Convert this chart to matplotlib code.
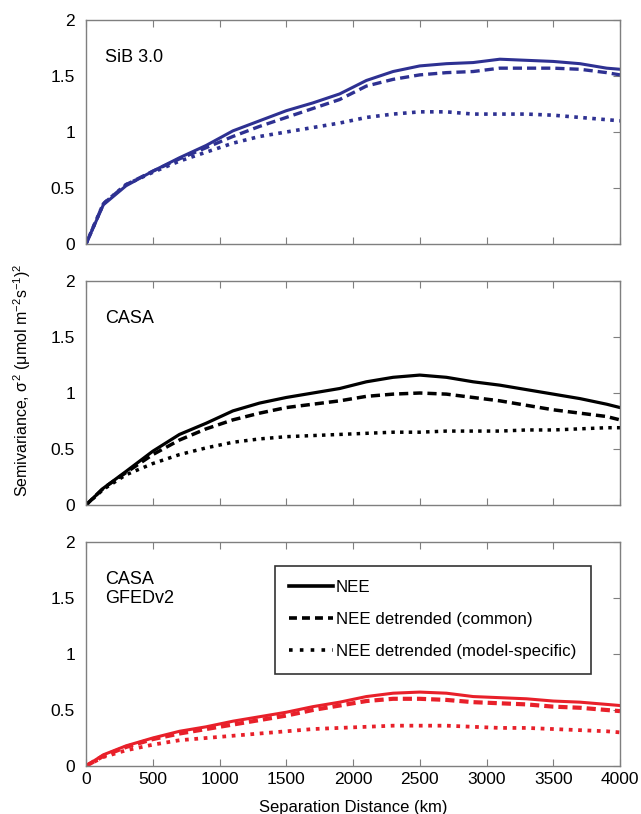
import matplotlib
matplotlib.use('Agg')
import matplotlib.pyplot as plt
from matplotlib.lines import Line2D

plt.rcParams['font.family'] = ['Liberation Sans', 'DejaVu Sans']
plt.rcParams['mathtext.fontset'] = 'custom'
plt.rcParams['mathtext.rm'] = 'Liberation Sans'
plt.rcParams['mathtext.it'] = 'Liberation Sans'

# separation distance (km)
dist = [0, 130, 300, 500, 700, 900, 1100, 1300, 1500, 1700, 1900, 2100,
        2300, 2500, 2700, 2900, 3100, 3300, 3500, 3700, 3900, 4000]

# SiB 3.0
sib_nee = [0, 0.35, 0.52, 0.65, 0.77, 0.88, 1.01, 1.10, 1.19, 1.26, 1.34, 1.46,
           1.54, 1.59, 1.61, 1.62, 1.65, 1.64, 1.63, 1.61, 1.57, 1.56]
sib_common = [0, 0.36, 0.53, 0.65, 0.76, 0.86, 0.96, 1.05, 1.13, 1.21, 1.29, 1.41,
              1.47, 1.51, 1.53, 1.54, 1.57, 1.57, 1.57, 1.56, 1.53, 1.51]
sib_specific = [0, 0.36, 0.53, 0.64, 0.74, 0.82, 0.90, 0.96, 1.00, 1.04, 1.08, 1.13,
                1.16, 1.18, 1.18, 1.16, 1.16, 1.16, 1.15, 1.13, 1.11, 1.10]

# CASA
casa_nee = [0, 0.15, 0.30, 0.48, 0.63, 0.73, 0.84, 0.91, 0.96, 1.00, 1.04, 1.10,
            1.14, 1.16, 1.14, 1.10, 1.07, 1.03, 0.99, 0.95, 0.90, 0.87]
casa_common = [0, 0.15, 0.29, 0.45, 0.58, 0.68, 0.76, 0.82, 0.87, 0.90, 0.93, 0.97,
               0.99, 1.00, 0.99, 0.96, 0.93, 0.89, 0.85, 0.82, 0.79, 0.76]
casa_specific = [0, 0.14, 0.27, 0.37, 0.45, 0.51, 0.56, 0.59, 0.61, 0.62, 0.63, 0.64,
                 0.65, 0.65, 0.66, 0.66, 0.66, 0.67, 0.67, 0.68, 0.69, 0.69]

# CASA GFEDv2
gfed_nee = [0, 0.10, 0.18, 0.25, 0.31, 0.35, 0.40, 0.44, 0.48, 0.53, 0.57, 0.62,
            0.65, 0.66, 0.65, 0.62, 0.61, 0.60, 0.58, 0.57, 0.55, 0.54]
gfed_common = [0, 0.09, 0.17, 0.24, 0.29, 0.33, 0.37, 0.41, 0.45, 0.50, 0.54, 0.58,
               0.60, 0.60, 0.59, 0.57, 0.56, 0.55, 0.53, 0.52, 0.50, 0.49]
gfed_specific = [0, 0.08, 0.14, 0.19, 0.23, 0.25, 0.27, 0.29, 0.31, 0.33, 0.34, 0.35,
                 0.36, 0.36, 0.36, 0.35, 0.34, 0.34, 0.33, 0.32, 0.31, 0.30]

# name, colour, series, line widths (solid, dashed, dotted)
panels = [
    ("SiB 3.0", "#2e3192", sib_nee, sib_common, sib_specific, (2.2, 2.4, 2.6)),
    ("CASA", "#000000", casa_nee, casa_common, casa_specific, (2.3, 2.5, 2.5)),
    ("CASA\nGFEDv2", "#e8202a", gfed_nee, gfed_common, gfed_specific, (2.2, 3.0, 2.7)),
]

fig = plt.figure(figsize=(6.41, 8.14), dpi=100)
W, H = 641, 814
left, right = 86, 620
tops = [20, 281, 542]
ph = 224

axes = []
for (name, col, nee, com, spec, lws), top in zip(panels, tops):
    ax = fig.add_axes([left / W, 1 - (top + ph) / H, (right - left) / W, ph / H])
    ax.plot(dist, nee, color=col, lw=lws[0], solid_joinstyle='round')
    # dash ~9 px, gap ~5 px
    ax.plot(dist, com, color=col, lw=lws[1], dashes=(6.6 / lws[1], 3.6 / lws[1]),
            dash_capstyle='butt')
    ax.plot(dist, spec, color=col, lw=lws[2], dashes=(1.0, 1.5), dash_capstyle='butt')
    ax.set_xlim(0, 4000)
    ax.set_ylim(0, 2)
    ax.set_xticks(range(0, 4001, 500))
    ax.set_yticks([0, 0.5, 1, 1.5, 2])
    ax.set_yticklabels(['0', '0.5', '1', '1.5', '2'])
    for s in ax.spines.values():
        s.set_color('#7f7f7f')
        s.set_linewidth(1.0)
    ax.tick_params(direction='in', top=True, right=True, left=False,
                   length=5, color='#7f7f7f', labelsize=12.5, pad=4)
    ax.tick_params(axis='y', pad=8)
    ax.text(0.035, 0.87, name, transform=ax.transAxes, fontsize=13,
            va='top', ha='left', linespacing=1.15)
    axes.append(ax)

axes[0].tick_params(labelbottom=False)
axes[1].tick_params(labelbottom=False)
axes[2].set_xlabel("Separation Distance (km)", fontsize=12, labelpad=10)

fig.text(22 / W, 1 - 380 / H,
         r"Semivariance, $\sigma^2$ ($\mu$mol m$^{-2}$s$^{-1}$)$^2$",
         rotation=90, ha='center', va='center', fontsize=11.5)

handles = [
    Line2D([], [], color='black', lw=2.6),
    Line2D([], [], color='black', lw=2.6, dashes=(2.2, 1.4), dash_capstyle='butt'),
    Line2D([], [], color='black', lw=2.6, dashes=(1.0, 2.0), dash_capstyle='butt'),
]
labels = ["NEE", "NEE detrended (common)", "NEE detrended (model-specific)"]
leg = axes[2].legend(handles, labels, loc='upper left',
                     bbox_to_anchor=((275 - left) / (right - left), 1 - (566 - 542) / ph),
                     frameon=True, fancybox=False, fontsize=12.2,
                     handlelength=2.6, handletextpad=0.15, labelspacing=1.0,
                     borderpad=0.85, borderaxespad=0)
leg.get_frame().set_edgecolor('black')
leg.get_frame().set_linewidth(1.2)

fig.savefig('out.png', dpi=100)
